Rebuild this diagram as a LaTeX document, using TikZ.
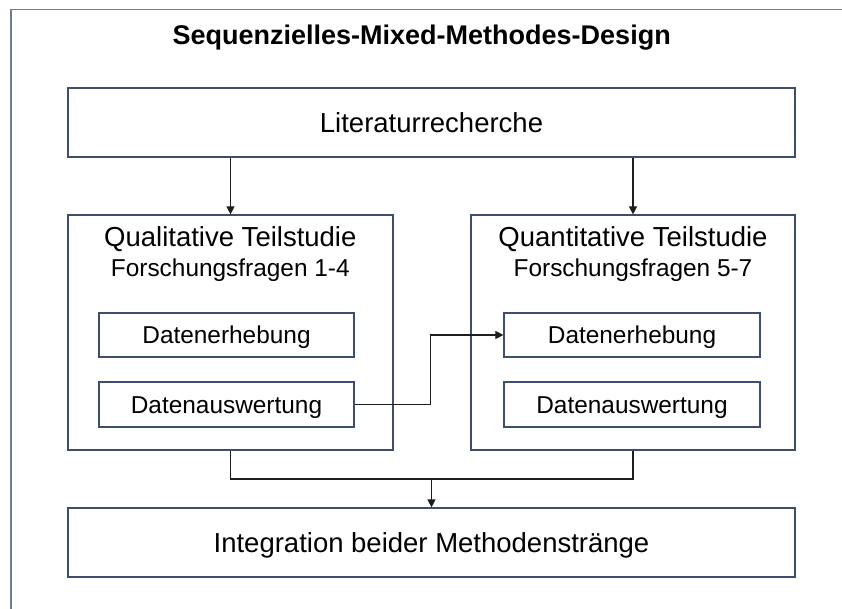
\documentclass[tikz,border=0pt]{standalone}
\usepackage{fontspec}
\setmainfont{Liberation Sans}
\usetikzlibrary{arrows.meta}
\definecolor{boxline}{RGB}{62,78,108}
\definecolor{frameline}{RGB}{110,124,148}
\definecolor{conn}{RGB}{30,30,30}
\tikzset{
  bigbox/.style={draw=boxline, line width=1.2pt, inner sep=0pt, fill=white},
  bigtext/.style={font=\fontsize{27.5}{30}\selectfont, inner sep=0pt, text height=19.7pt, text depth=0pt},
  smalltext/.style={font=\fontsize{24.4}{27}\selectfont, inner sep=0pt, text height=17.5pt, text depth=0pt},
  conline/.style={draw=conn, line width=1.1pt},
  arrowline/.style={conline, -{Triangle[length=8pt,width=8pt]}},
}
\begin{document}
\begin{tikzpicture}[x=1pt,y=-1pt]
\useasboundingbox (0,0) rectangle (842,609);
\fill[white] (0,0) rectangle (842,609);
% outer frame (right and bottom edges lie outside the picture)
\draw[frameline, line width=1.4pt] (11,609) -- (11,9.3) -- (842,9.3);
% title
\node[anchor=base, inner sep=0pt, font=\fontsize{27}{30}\selectfont\bfseries] (title) at (421.7,45) {Sequenzielles-Mixed-Methodes-Design};
% boxes
\node[bigbox, bigtext, minimum width=727pt, minimum height=69pt] (lit) at (431.5,122.5) {Literaturrecherche};
\node[bigbox, minimum width=325pt, minimum height=235pt] (qual) at (230.5,332.5) {};
\node[bigbox, minimum width=324pt, minimum height=235pt] (quant) at (633,332.5) {};
\node[bigbox, bigtext, minimum width=727pt, minimum height=69pt] (integ) at (431.5,542.5) {Integration beider Methodenstränge};
% titles inside study boxes
\node[anchor=base, inner sep=0pt, font=\fontsize{27.5}{30}\selectfont] (qualt) at (230.3,246.7) {Qualitative Teilstudie};
\node[anchor=base, inner sep=0pt, font=\fontsize{24.4}{27}\selectfont] (qualf) at (230.3,276.7) {Forschungsfragen 1-4};
\node[anchor=base, inner sep=0pt, font=\fontsize{27.5}{30}\selectfont] (quantt) at (633,246.7) {Quantitative Teilstudie};
\node[anchor=base, inner sep=0pt, font=\fontsize{24.4}{27}\selectfont] (quantf) at (633,276.7) {Forschungsfragen 5-7};
% inner boxes
\node[bigbox, smalltext, minimum width=255pt, minimum height=44pt] (le) at (226.5,335) {Datenerhebung};
\node[bigbox, smalltext, minimum width=255pt, minimum height=45pt] (la) at (226.5,404.5) {Datenauswertung};
\node[bigbox, smalltext, minimum width=256pt, minimum height=44pt] (re) at (632,335) {Datenerhebung};
\node[bigbox, smalltext, minimum width=256pt, minimum height=45pt] (ra) at (632,404.5) {Datenauswertung};
% connectors
\draw[arrowline] (lit.south -| qual.north) -- (qual.north);
\draw[arrowline] (lit.south -| quant.north) -- (quant.north);
\draw[arrowline] (la.east) -- ++(76,0) |- (re.west);
\coordinate (join) at (431.5,479);
\draw[conline] (qual.south) -- (qual.south |- join) -- (quant.south |- join) -- (quant.south);
\draw[arrowline] (join) -- (integ.north);
\end{tikzpicture}
\end{document}
